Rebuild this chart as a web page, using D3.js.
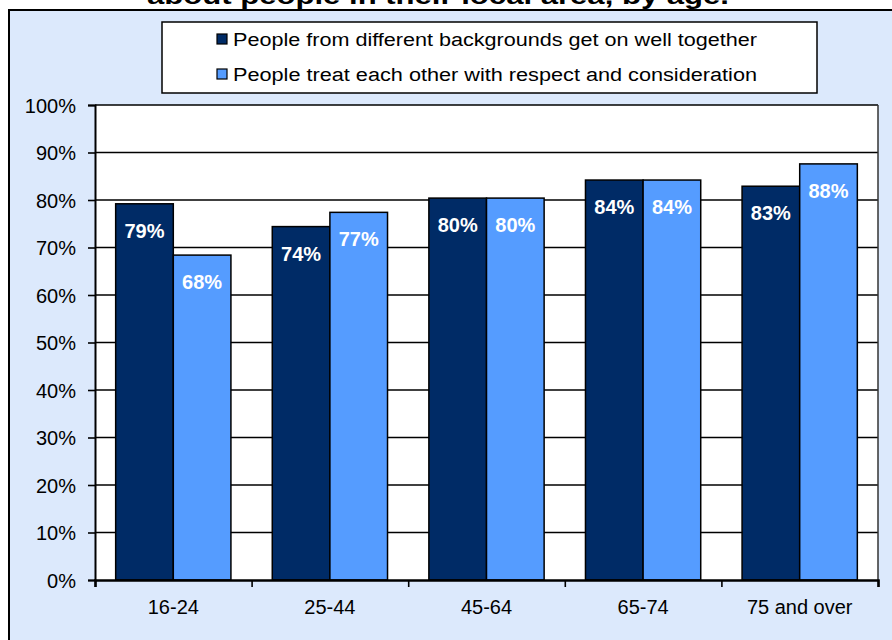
<!DOCTYPE html>
<html>
<head>
<meta charset="utf-8">
<script src="https://cdn.jsdelivr.net/npm/d3@7"></script>
<style>
  body { margin: 0; background: #ffffff; }
  svg { display: block; font-family: Arial, "Liberation Sans", sans-serif; }
</style>
</head>
<body>
<svg width="892" height="640"></svg>
<script>
var categories = ["16-24", "25-44", "45-64", "65-74", "75 and over"];
var seriesNames = ["People from different backgrounds get on well together",
                   "People treat each other with respect and consideration"];
var wellTogether = [79.2, 74.4, 80.4, 84.2, 82.9];
var respect = [68.4, 77.4, 80.4, 84.2, 87.6];
var yTicks = [0, 10, 20, 30, 40, 50, 60, 70, 80, 90, 100];
var titleText = "about people in their local area, by age.";

var colors = ["#002b66", "#559cff"];
var svg = d3.select("svg");

// outer chart panel, runs off the page on the right and bottom
svg.append("rect").attr("x", 9).attr("y", 10).attr("width", 900).attr("height", 700)
    .style("fill", "#dce9fc").style("stroke", "#000").style("stroke-width", 2);

// title (only the bottom line shows)
svg.append("text").attr("x", 147).attr("y", 4).attr("textLength", 582).attr("lengthAdjust", "spacingAndGlyphs")
    .style("font-size", "23px").style("font-weight", "bold").text(titleText);

var plotLeft = 95, plotRight = 878, plotTop = 105, plotBottom = 580;

xScale = d3.scaleBand().domain(categories).range([plotLeft, plotRight]).paddingInner(0.264).paddingOuter(0.132);
x1Scale = d3.scaleBand().domain([0, 1]).range([0, xScale.bandwidth()]);
yScale = d3.scaleLinear().domain([0, 100]).range([plotBottom, plotTop]);
edgeScale = d3.scaleLinear().domain([0, categories.length]).range([plotLeft, plotRight]);

// plot background
svg.append("rect").attr("x", plotLeft).attr("y", plotTop).attr("width", plotRight - plotLeft).attr("height", plotBottom - plotTop)
    .style("fill", "#fff");

// gridlines
svg.append("g").selectAll("line").data(yTicks.slice(1)).enter().append("line")
    .attr("x1", plotLeft).attr("x2", plotRight)
    .attr("y1", function (d) { return yScale(d) }).attr("y2", function (d) { return yScale(d) })
    .style("stroke", "#000").style("stroke-width", 1.6);

svg.append("line").attr("x1", plotRight).attr("x2", plotRight).attr("y1", plotTop).attr("y2", plotBottom)
    .style("stroke", "#333").style("stroke-width", 1.5);

var rows = [];
categories.forEach(function (c, i) {
    rows.push({cat: c, s: 0, v: wellTogether[i]});
    rows.push({cat: c, s: 1, v: respect[i]});
});

svg.append("g").selectAll("rect").data(rows).enter().append("rect")
    .attr("x", function (d) { return xScale(d.cat) + x1Scale(d.s) })
    .attr("y", function (d) { return yScale(d.v) })
    .attr("width", x1Scale.bandwidth())
    .attr("height", function (d) { return yScale(0) - yScale(d.v) })
    .style("fill", function (d) { return colors[d.s] })
    .style("stroke", "#000").style("stroke-width", 1.5);

svg.append("g").selectAll("text").data(rows).enter().append("text")
    .attr("x", function (d) { return xScale(d.cat) + x1Scale(d.s) + x1Scale.bandwidth() / 2 })
    .attr("y", function (d) { return yScale(d.v) + 34 })
    .attr("text-anchor", "middle")
    .style("fill", "#fff").style("font-size", "20px").style("font-weight", "bold")
    .text(function (d) { return Math.round(d.v) + "%" });

// y axis
yAxis = d3.axisLeft(yScale).tickValues(yTicks).tickSize(7).tickPadding(12)
    .tickFormat(function (d) { return d + "%" });
var yG = svg.append("g").attr("transform", "translate(" + plotLeft + ",0)").call(yAxis);
yG.select(".domain").style("stroke-width", 2);
yG.selectAll(".tick line").style("stroke-width", 1.6);
yG.selectAll("text").attr("dy", "0.36em").style("font-size", "20px").style("fill", "#000")
    .style("font-family", "Arial, 'Liberation Sans', sans-serif");

// x axis: boundary ticks and category labels
edgeAxis = d3.axisBottom(edgeScale).ticks(categories.length).tickSize(7).tickFormat("");
var eG = svg.append("g").attr("transform", "translate(0," + plotBottom + ")").call(edgeAxis);
eG.select(".domain").style("stroke-width", 2.5);
eG.selectAll(".tick line").style("stroke-width", 1.6);

xAxis = d3.axisBottom(xScale).tickSize(0).tickPadding(20);
var xG = svg.append("g").attr("transform", "translate(0," + plotBottom + ")").call(xAxis);
xG.select(".domain").remove();
xG.selectAll("text").style("font-size", "20px").style("fill", "#000")
    .style("font-family", "Arial, 'Liberation Sans', sans-serif");

// legend
svg.append("rect").attr("x", 162).attr("y", 22).attr("width", 655).attr("height", 71)
    .style("fill", "#fff").style("stroke", "#000").style("stroke-width", 1.5);
var lg = svg.append("g").selectAll("g").data(seriesNames).enter().append("g")
    .attr("transform", function (d, i) { return "translate(217," + (39 + i * 35) + ")" });
lg.append("rect").attr("x", 0).attr("y", -5).attr("width", 10).attr("height", 10)
    .style("fill", function (d, i) { return colors[i] }).style("stroke", "#000").style("stroke-width", 1.2);
lg.append("text").attr("x", 16).attr("y", 6.5).attr("textLength", 524).attr("lengthAdjust", "spacingAndGlyphs")
    .style("font-size", "18px").text(function (d) { return d });
</script>
</body>
</html>
